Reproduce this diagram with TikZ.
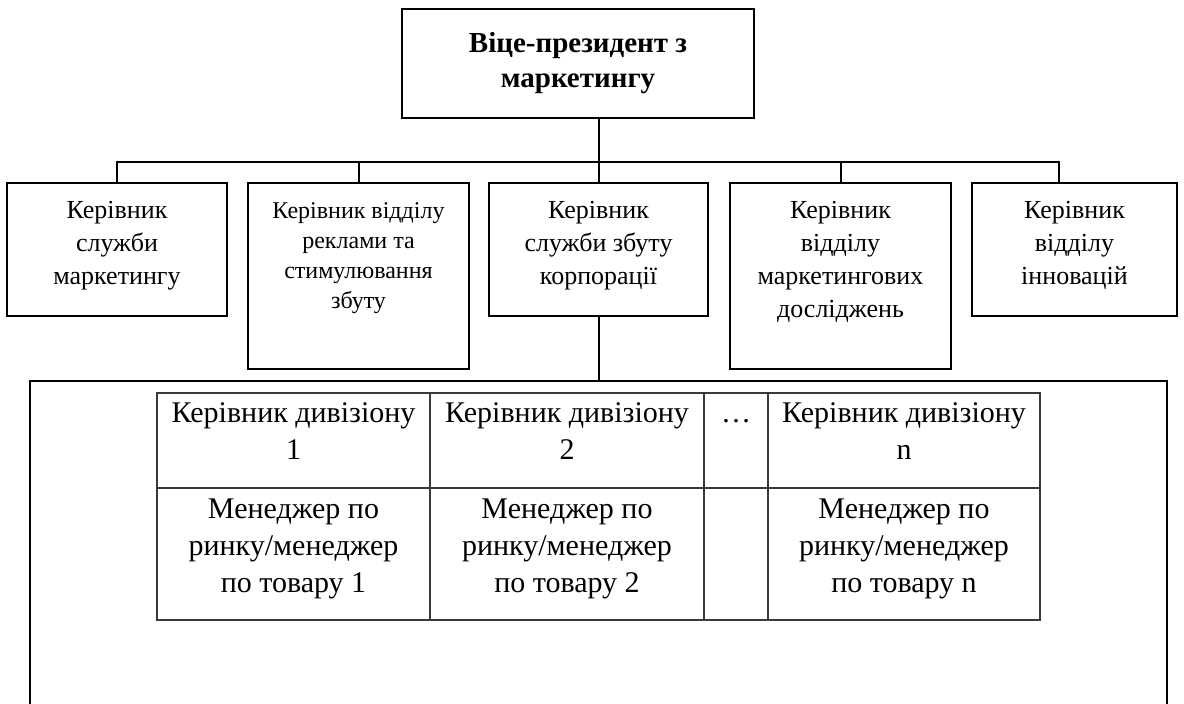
\documentclass[tikz,border=0pt]{standalone}
\usepackage{fontspec}
\setmainfont{Liberation Serif}
\usepackage{tikz}
\usetikzlibrary{positioning,calc}
\definecolor{tgrey}{HTML}{3A3A3A}

\tikzset{
  box/.style={draw, line width=1pt, rectangle, inner sep=0pt, outer sep=0pt, anchor=north west},
  lbl/.style={align=center, inner sep=0pt, font=\fontsize{13}{16.5}\selectfont},
  cell/.style={draw=tgrey, line width=0.6pt, rectangle, inner sep=0pt, outer sep=0pt, anchor=north west},
  celltext/.style={align=center, inner sep=0pt, font=\fontsize{15}{18.5}\selectfont},
  conn/.style={line width=1pt}
}

\begin{document}
\begin{tikzpicture}[x=0.5pt,y=-0.5pt]
  \useasboundingbox (0,0) rectangle (1184,704);
  % vice-president
  \node[box, minimum width=176pt, minimum height=54.5pt, align=center,
        font=\bfseries\fontsize{14.5}{17.5}\selectfont] (vp) at (402,9)
        {Віце-президент з\\маркетингу};

  % second level
  \node[box, minimum width=110pt, minimum height=66.5pt] (b1) at (7,183) {};
  \node[box, minimum width=110.5pt, minimum height=93pt] (b2) at (248,183) {};
  \node[box, minimum width=109.5pt, minimum height=66.5pt] (b3) at (489,183) {};
  \node[box, minimum width=110.5pt, minimum height=93pt] (b4) at (730,183) {};
  \node[box, minimum width=102.5pt, minimum height=66.5pt] (b5) at (972,183) {};
  \node[lbl, below=9pt of b1.north] {Керівник\\служби\\маркетингу};
  \node[lbl, below=9.5pt of b2.north, font=\fontsize{12}{15}\selectfont]
    {Керівник відділу\\реклами та\\стимулювання\\збуту};
  \node[lbl, below=9pt of b3.north] {Керівник\\служби збуту\\корпорації};
  \node[lbl, below=9pt of b4.north] {Керівник\\відділу\\маркетингових\\досліджень};
  \node[lbl, below=9pt of b5.north] {Керівник\\відділу\\інновацій};

  % sales frame
  \node[box, minimum width=568.5pt, minimum height=175pt] (frame) at (30,381) {};

  % connectors
  \coordinate (bar) at (0,162);
  \coordinate (s5) at ([xshift=-8pt]b5.north);
  \draw[conn] (b3.north |- vp.south) -- (b3.north);
  \draw[conn] (b1.north) -- (b1.north |- bar) -- (s5 |- bar) -- (s5);
  \draw[conn] (b2.north) -- (b2.north |- bar);
  \draw[conn] (b4.north) -- (b4.north |- bar);
  \draw[conn] (b3.south) -- (b3.south |- frame.north);

  % divisions table
  \node[cell, minimum width=136.5pt, minimum height=47.5pt] (d1) at (157,393) {};
  \node[cell, minimum width=137pt, minimum height=47.5pt, right=0pt of d1.north east, anchor=north west] (d2) {};
  \node[cell, minimum width=32pt, minimum height=47.5pt, right=0pt of d2.north east, anchor=north west] (d3) {};
  \node[cell, minimum width=136pt, minimum height=47.5pt, right=0pt of d3.north east, anchor=north west] (d4) {};
  \node[cell, minimum width=136.5pt, minimum height=66pt, below=0pt of d1.south west, anchor=north west] (m1) {};
  \node[cell, minimum width=137pt, minimum height=66pt, below=0pt of d2.south west, anchor=north west] (m2) {};
  \node[cell, minimum width=32pt, minimum height=66pt, below=0pt of d3.south west, anchor=north west] (m3) {};
  \node[cell, minimum width=136pt, minimum height=66pt, below=0pt of d4.south west, anchor=north west] (m4) {};
  \node[celltext, below=4.5pt of d1.north] {Керівник дивізіону\\1};
  \node[celltext, below=4.5pt of d2.north] {Керівник дивізіону\\2};
  \node[celltext, below=4.5pt of d3.north] {\vphantom{К}…};
  \node[celltext, below=4.5pt of d4.north] {Керівник дивізіону\\n};
  \node[celltext, below=5pt of m1.north] {Менеджер по\\ринку/менеджер\\по товару 1};
  \node[celltext, below=5pt of m2.north] {Менеджер по\\ринку/менеджер\\по товару 2};
  \node[celltext, below=5pt of m4.north] {Менеджер по\\ринку/менеджер\\по товару n};
\end{tikzpicture}
\end{document}
